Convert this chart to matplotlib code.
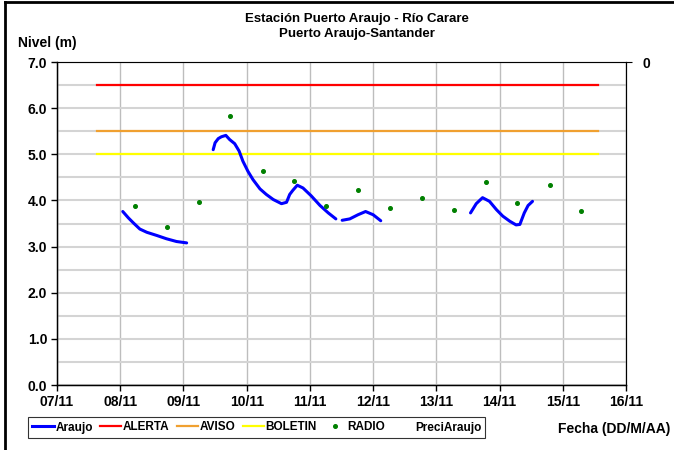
import matplotlib.pyplot as plt
from matplotlib.lines import Line2D

plt.rcParams["font.family"] = ["Liberation Sans", "DejaVu Sans"]
plt.rcParams["font.weight"] = "bold"

# dias desde 07/11 00:00
dias = ["07/11", "08/11", "09/11", "10/11", "11/11", "12/11", "13/11", "14/11", "15/11", "16/11"]

# Araujo (nivel), tramos separados
t1 = [1.04, 1.13, 1.21, 1.31, 1.42, 1.58, 1.73, 1.89, 2.05]
n1 = [3.76, 3.62, 3.51, 3.38, 3.31, 3.24, 3.17, 3.11, 3.08]

t2 = [2.47, 2.50, 2.55, 2.60, 2.67, 2.73, 2.81, 2.88, 2.94, 3.02, 3.10, 3.21,
      3.31, 3.42, 3.55, 3.63, 3.68, 3.73, 3.80, 3.89, 4.02, 4.16, 4.29, 4.41]
n2 = [5.10, 5.25, 5.34, 5.38, 5.41, 5.32, 5.23, 5.07, 4.85, 4.63, 4.45, 4.25,
      4.13, 4.02, 3.93, 3.96, 4.13, 4.22, 4.33, 4.27, 4.10, 3.89, 3.73, 3.60]

t3 = [4.51, 4.63, 4.76, 4.88, 5.00, 5.12]
n3 = [3.57, 3.60, 3.69, 3.76, 3.69, 3.56]

t4 = [6.54, 6.63, 6.73, 6.84, 6.95, 7.05, 7.16, 7.26, 7.32, 7.39, 7.45, 7.52]
n4 = [3.73, 3.93, 4.06, 3.98, 3.80, 3.66, 3.55, 3.47, 3.48, 3.73, 3.89, 3.98]

# RADIO
t_radio = [1.23, 1.74, 2.24, 2.74, 3.25, 3.75, 4.26, 4.76, 5.27, 5.77, 6.28, 6.78, 7.28, 7.79, 8.29]
n_radio = [3.87, 3.43, 3.97, 5.83, 4.63, 4.42, 3.87, 4.22, 3.83, 4.05, 3.80, 4.41, 3.95, 4.33, 3.77]

# umbrales
t_umbral = [0.63, 8.56]
alerta = 6.5
aviso = 5.5
boletin = 5.0

fig = plt.figure(figsize=(6.74, 4.5), dpi=100)
ax = fig.add_axes([0.0846, 0.1444, 0.8443, 0.7178])

ax.set_xlim(0, 9)
ax.set_ylim(0, 7)
ax.set_xticks(range(len(dias)))
ax.set_xticklabels(dias, fontsize=10, fontweight="bold")
ax.set_yticks([0, 1, 2, 3, 4, 5, 6, 7])
ax.set_yticklabels([f"{v:.1f}" for v in range(8)], fontsize=10, fontweight="bold")
ax.set_yticks([0.5, 1.5, 2.5, 3.5, 4.5, 5.5, 6.5], minor=True)
ax.tick_params(axis="y", which="minor", length=0)
ax.tick_params(axis="both", which="major", direction="out", length=4, width=1, pad=3)

ax.grid(True, axis="y", which="both", color="#d4d4d4", linewidth=1.5, zorder=0)
ax.grid(True, axis="x", which="major", color="#bdbdbd", linewidth=1, zorder=0)

for s in ["left", "bottom"]:
    ax.spines[s].set_color("black")
    ax.spines[s].set_linewidth(1)
ax.spines["top"].set_color("#a0a0a0")
ax.spines["right"].set_color("black")

ax.plot(t_umbral, [alerta, alerta], color="#ff0000", lw=1.6, zorder=3)
ax.plot(t_umbral, [aviso, aviso], color="#f0a030", lw=1.6, zorder=3)
ax.plot(t_umbral, [boletin, boletin], color="#ffff00", lw=1.6, zorder=3)
for t, n in [(t1, n1), (t2, n2), (t3, n3), (t4, n4)]:
    ax.plot(t, n, color="#0000ff", lw=2.2, solid_capstyle="round", zorder=4)
ax.plot(t_radio, n_radio, linestyle="none", marker="o", markersize=2.6,
        color="#008000", zorder=5)

ax2 = ax.twinx()
ax2.set_ylim(0, 7)
ax2.set_yticks([7])
ax2.set_yticklabels(["0"], fontsize=10, fontweight="bold")
ax2.tick_params(axis="y", direction="out", length=4, pad=8)

fig.text(0.53, 0.957, "Estación Puerto Araujo - Río Carare", ha="center", va="center",
         fontsize=9.5, fontweight="bold")
fig.text(0.53, 0.925, "Puerto Araujo-Santander", ha="center", va="center",
         fontsize=9.5, fontweight="bold")
fig.text(0.027, 0.905, "Nivel (m)", ha="left", va="center", fontsize=10, fontweight="bold")
fig.text(0.995, 0.047, "Fecha (DD/M/AA)", ha="right", va="center", fontsize=10, fontweight="bold")

handles = [
    Line2D([], [], color="#0000ff", lw=2.2),
    Line2D([], [], color="#ff0000", lw=1.6),
    Line2D([], [], color="#f0a030", lw=1.6),
    Line2D([], [], color="#ffff00", lw=1.6),
    Line2D([], [], linestyle="none", marker="o", markersize=2.6, color="#008000"),
    Line2D([], [], color="none"),
]
labels = ["Araujo", "ALERTA", "AVISO", "BOLETIN", "RADIO", "PreciAraujo"]
leg = fig.legend(handles, labels, loc="center left", bbox_to_anchor=(0.042, 0.05),
                 ncol=6, fontsize=8.5, frameon=True, fancybox=False, edgecolor="black",
                 handlelength=1.8, handletextpad=0.15, columnspacing=0.6,
                 borderpad=0.35, borderaxespad=0)
leg.get_frame().set_linewidth(0.8)
for txt in leg.get_texts():
    txt.set_fontweight("bold")

fig.add_artist(Line2D([0.008, 0.008], [0, 0.995], color="black", lw=2,
                      transform=fig.transFigure))
fig.add_artist(Line2D([0.008, 1], [0.995, 0.995], color="black", lw=2,
                      transform=fig.transFigure))

fig.savefig("out.png", dpi=100)
